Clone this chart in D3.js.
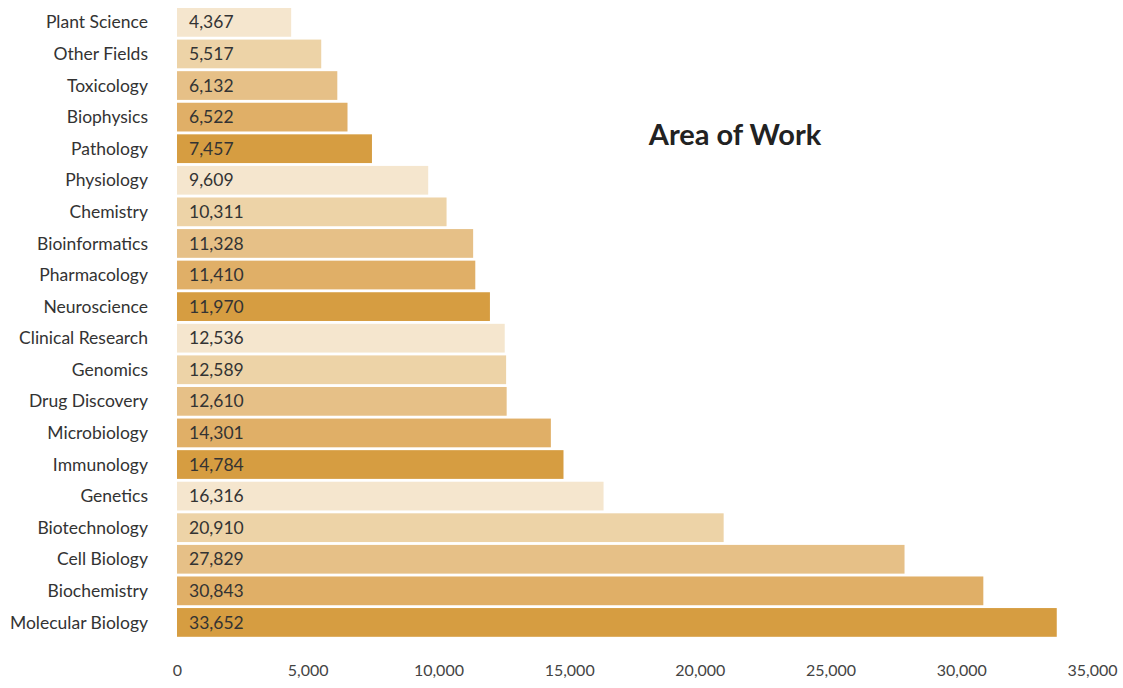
<!DOCTYPE html>
<html>
<head>
<meta charset="utf-8">
<script src="https://cdn.jsdelivr.net/npm/d3@7"></script>
<style>
	body { margin: 0; background: #fff; }
	text { font-family: Lato, "Open Sans", sans-serif; }
	.cat-label { font-size: 17.5px; fill: #333; }
	.bar-text { font-size: 17.5px; fill: #333; }
	.x-axis text { font-size: 16px; fill: #444; }
	.chart-title { font-size: 29px; font-weight: bold; fill: #222; }
</style>
</head>
<body>
<div id="chart"></div>
<script>

// categories, top to bottom
let categories = ["Plant Science", "Other Fields", "Toxicology", "Biophysics", "Pathology",
	"Physiology", "Chemistry", "Bioinformatics", "Pharmacology", "Neuroscience",
	"Clinical Research", "Genomics", "Drug Discovery", "Microbiology", "Immunology",
	"Genetics", "Biotechnology", "Cell Biology", "Biochemistry", "Molecular Biology"];

let counts = [4367, 5517, 6132, 6522, 7457,
	9609, 10311, 11328, 11410, 11970,
	12536, 12589, 12610, 14301, 14784,
	16316, 20910, 27829, 30843, 33652];

let tickValues = [0, 5000, 10000, 15000, 20000, 25000, 30000, 35000];

let palette = ["#F5E6CE", "#EDD3A7", "#E6C087", "#E0AF67", "#D69D41"];

let data = categories.map((c, i) => ({name: c, value: counts[i]}));

let width = 1123, height = 688;

let svg = d3.select("#chart").append("svg")
	.attr("width", width)
	.attr("height", height);

// Scales
let x = d3.scaleLinear()
	.domain([0, 35000])
	.range([177, 1092]);

let y = d3.scaleBand()
	.domain(categories)
	.range([8, 636.8])
	.paddingInner(0.09)
	.paddingOuter(0);

// Bars
svg.selectAll("rect.bars")
	.data(data)
	.enter().append("rect")
	.attr("class", "bars")
	.attr("x", x(0))
	.attr("y", d => y(d.name))
	.attr("width", d => x(d.value) - x(0))
	.attr("height", y.bandwidth())
	.attr("fill", (d, i) => palette[i % palette.length]);

// Value labels inside bars
svg.selectAll(".bar-text")
	.data(data)
	.enter().append("text")
	.attr("class", "bar-text")
	.attr("x", x(0) + 12)
	.attr("y", d => y(d.name) + y.bandwidth() / 2)
	.attr("dy", "0.35em")
	.text(d => d3.format(",")(d.value));

// Category labels
svg.selectAll(".cat-label")
	.data(data)
	.enter().append("text")
	.attr("class", "cat-label")
	.attr("x", 148)
	.attr("y", d => y(d.name) + y.bandwidth() / 2)
	.attr("dy", "0.35em")
	.attr("text-anchor", "end")
	.text(d => d.name);

// x axis, no lines
let xAxis = d3.axisBottom(x)
	.tickValues(tickValues)
	.tickFormat(d3.format(","))
	.tickSize(0)
	.tickPadding(0);

let gx = svg.append("g")
	.attr("class", "x-axis")
	.attr("transform", "translate(0,665)")
	.call(xAxis);
gx.select(".domain").remove();
gx.selectAll("text").attr("font-family", null).attr("font-size", null);

// Title
svg.append("text")
	.attr("class", "chart-title")
	.attr("x", 735)
	.attr("y", 145)
	.attr("text-anchor", "middle")
	.text("Area of Work");

</script>
</body>
</html>
